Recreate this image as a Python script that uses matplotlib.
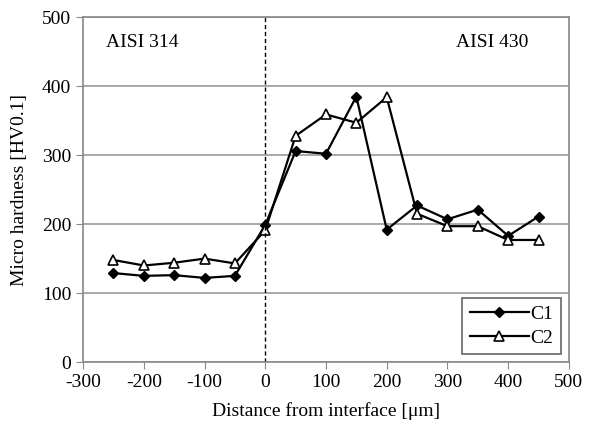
import matplotlib
matplotlib.use("Agg")
import matplotlib.pyplot as plt

plt.rcParams['font.family'] = ['Liberation Serif', 'DejaVu Serif']
plt.rcParams['axes.unicode_minus'] = False

distance = [-250, -200, -150, -100, -50, 0, 50, 100, 150, 200, 250, 300, 350, 400, 450]
c1 = [129, 125, 126, 122, 125, 199, 306, 302, 385, 192, 227, 207, 221, 183, 211]
c2 = [148, 140, 144, 150, 143, 191, 328, 359, 347, 384, 215, 197, 197, 177, 177]

fig = plt.figure(figsize=(6.02, 4.30), dpi=100)
ax = fig.add_axes([0.138, 0.158, 0.807, 0.802])

ax.plot(distance, c1, color='black', lw=1.6, marker='D', ms=5, label='C1')
ax.plot(distance, c2, color='black', lw=1.6, marker='^', ms=6.5,
        markerfacecolor='white', markeredgewidth=1.2, label='C2')
ax.axvline(0, color='black', ls=(0, (3, 2)), lw=1)

ax.set_xlim(-300, 500)
ax.set_ylim(0, 500)
ax.set_xticks(range(-300, 501, 100))
ax.set_yticks(range(0, 501, 100))
ax.yaxis.grid(True, color='#999999', lw=1.2)
ax.set_axisbelow(True)
for s in ax.spines.values():
    s.set_color('#888888')
    s.set_linewidth(1.2)
ax.tick_params(labelsize=14, color='#888888', length=5, direction='out')

ax.text(-262, 464, 'AISI 314', fontsize=14, va='center')
ax.text(434, 464, 'AISI 430', fontsize=14, va='center', ha='right')

ax.set_xlabel('Distance from interface [\u03bcm]', fontsize=14, labelpad=8)
ax.set_ylabel('Micro hardness [HV0.1]', fontsize=14, labelpad=10)

leg = ax.legend(loc='lower right', fontsize=14, fancybox=False, framealpha=1,
                edgecolor='#666666', handlelength=3.0, handletextpad=0.1,
                borderaxespad=0.4, borderpad=0.4, labelspacing=0.3)
leg.get_frame().set_linewidth(1.2)

fig.savefig('out.png', dpi=100)
